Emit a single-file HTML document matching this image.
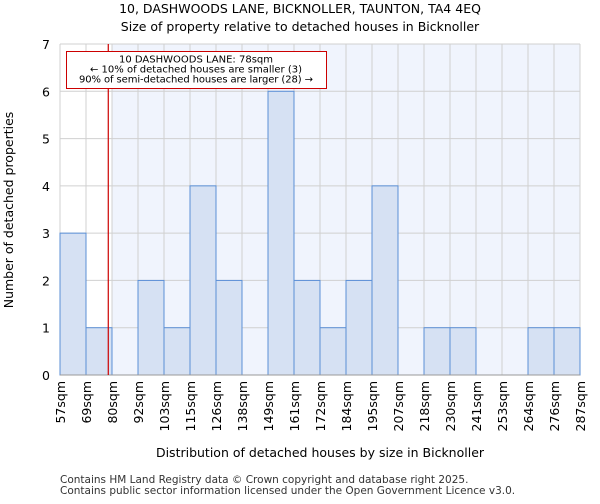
<!DOCTYPE html>
<html><head><meta charset="utf-8"><style>
body{margin:0;background:#fff;font-family:"DejaVu Sans","Liberation Sans",sans-serif}
</style></head><body>
<svg id="chart" width="600" height="500" xmlns="http://www.w3.org/2000/svg" font-family="DejaVu Sans, Liberation Sans, sans-serif">
<text x="300" y="13" text-anchor="middle" font-size="12.5">10, DASHWOODS LANE, BICKNOLLER, TAUNTON, TA4 4EQ</text>
<text x="300" y="31" text-anchor="middle" font-size="12.5">Size of property relative to detached houses in Bicknoller</text>
<g id="plot"></g>
<text x="320" y="457" text-anchor="middle" font-size="12.5">Distribution of detached houses by size in Bicknoller</text>
<text transform="translate(13,210) rotate(-90)" text-anchor="middle" font-size="12.5">Number of detached properties</text>
<text x="60" y="483" font-size="10.5" fill="#333">Contains HM Land Registry data © Crown copyright and database right 2025.</text>
<text x="60" y="494" font-size="10.5" fill="#333">Contains public sector information licensed under the Open Government Licence v3.0.</text>
</svg>
<script>
const edges=[57,69,80,92,103,115,126,138,149,161,172,184,195,207,218,230,241,253,264,276,287];
const counts=[3,1,0,2,1,4,2,0,6,2,1,2,4,0,1,1,0,0,1,1];
const yTicks=[0,1,2,3,4,5,6,7];
const subject=78;
const X0=60,X1=580,Y0=375,Y1=44,YMAX=7;
const NS="http://www.w3.org/2000/svg";
const g=document.getElementById('plot');
const bw=(X1-X0)/counts.length;
function xIdx(i){return X0+i*bw;}
function xVal(v){for(let i=0;i<edges.length-1;i++){if(v<=edges[i+1]){return xIdx(i)+(v-edges[i])/(edges[i+1]-edges[i])*bw;}}return X1;}
function y(v){return Y0-(v/YMAX)*(Y0-Y1);}
function mk(t,a){const e=document.createElementNS(NS,t);for(const k in a)e.setAttribute(k,a[k]);g.appendChild(e);return e;}
let bgStart=xIdx(Math.max(0,edges.findIndex(e=>e>subject)));
let bg=mk('rect',{x:bgStart,y:Y1,width:X1-bgStart,height:Y0-Y1,fill:'#f0f4fd'});


yTicks.forEach(t=>{
 let l=mk('line',{x1:X0,x2:X1,y1:y(t),y2:y(t),stroke:'#d0d0d0'});
 
 
 let tx=mk('text',{x:X0-10,y:y(t)+5,'text-anchor':'end','font-size':'12.5'});tx.textContent=t;
 
 
});
edges.forEach((e,i)=>{
 let l=mk('line',{x1:xIdx(i),x2:xIdx(i),y1:Y1,y2:Y0,stroke:'#d0d0d0'});
 
 
 let tx=mk('text',{transform:`translate(${xIdx(i)+5},${Y0+6}) rotate(-90)`,'text-anchor':'end','font-size':'12.5'});tx.textContent=e+'sqm';
 
 
});
counts.forEach((c,i)=>{
 if(c<=0)return;
 let r=mk('rect',{x:xIdx(i),y:y(c),width:bw,height:Y0-y(c),fill:'#d6e1f3',stroke:'#5b8fd6','stroke-width':1});
 
 
});
let ax=mk('line',{x1:X0,x2:X1,y1:Y0,y2:Y0,stroke:'#999'});


let sx=xVal(subject)+1;
let sl=mk('line',{x1:sx,x2:sx,y1:Y1,y2:Y0,stroke:'#cc0000','stroke-width':1.2});


let box=mk('rect',{x:66.5,y:51.5,width:260,height:37,fill:'#fff',stroke:'#cc0000'});


['10 DASHWOODS LANE: 78sqm','← 10% of detached houses are smaller (3)','90% of semi-detached houses are larger (28) →'].forEach((s,i)=>{
 let t=mk('text',{x:196,y:62.5+i*10,'text-anchor':'middle','font-size':'10','textLength':i==2?'234':null});
 if(i!=2)t.removeAttribute('textLength');
 t.textContent=s;
 
 
});
</script>
</body></html>
